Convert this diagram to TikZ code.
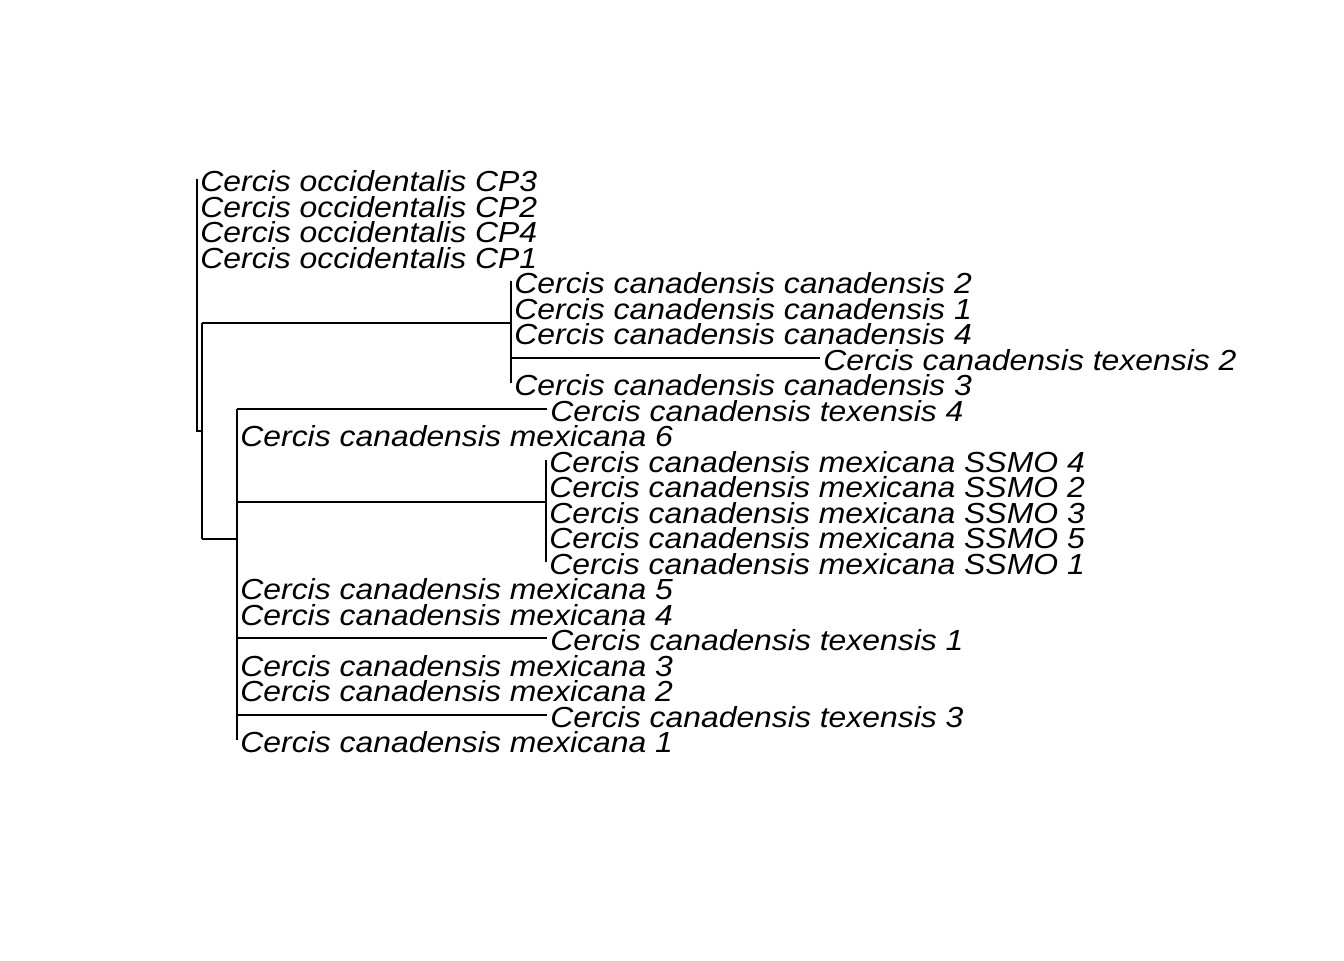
\documentclass[tikz,border=0pt]{standalone}
\usepackage{fontspec}
\newfontfamily\taxonfamily[FakeStretch=1.10]{Liberation Sans}
\usepackage{tikz}
\usetikzlibrary{calc}
\tikzset{
  branch/.style={line width=1pt},
  taxon/.style={anchor=base west, inner sep=0pt, xshift=1.5pt, yshift=-6.4pt,
    font=\taxonfamily\itshape\fontsize{14.5}{14.5}\selectfont}
}
\begin{document}
\begin{tikzpicture}[x=0.5pt,y=-0.5pt]
        \newcommand{\cercistopy}{179}
        \newcommand{\cercisrowsep}{25.5}
        \newcommand{\cercisrootx}{197}
        \newcommand{\cercisnodeax}{202}
        \newcommand{\cercisnodebx}{511}
        \newcommand{\cercisnodecx}{237}
        \newcommand{\cercisnodedx}{546}
        \newcommand{\cercistexx}{547}
        \useasboundingbox (0,0) rectangle (1344,960);
        \foreach \i/\tx/\lab in {
            1/\cercisrootx/Cercis occidentalis CP3,
            2/\cercisrootx/Cercis occidentalis CP2,
            3/\cercisrootx/Cercis occidentalis CP4,
            4/\cercisrootx/Cercis occidentalis CP1,
            5/\cercisnodebx/Cercis canadensis canadensis 2,
            6/\cercisnodebx/Cercis canadensis canadensis 1,
            7/\cercisnodebx/Cercis canadensis canadensis 4,
            8/820/Cercis canadensis texensis 2,
            9/\cercisnodebx/Cercis canadensis canadensis 3,
            10/\cercistexx/Cercis canadensis texensis 4,
            11/\cercisnodecx/Cercis canadensis mexicana 6,
            12/\cercisnodedx/Cercis canadensis mexicana SSMO 4,
            13/\cercisnodedx/Cercis canadensis mexicana SSMO 2,
            14/\cercisnodedx/Cercis canadensis mexicana SSMO 3,
            15/\cercisnodedx/Cercis canadensis mexicana SSMO 5,
            16/\cercisnodedx/Cercis canadensis mexicana SSMO 1,
            17/\cercisnodecx/Cercis canadensis mexicana 5,
            18/\cercisnodecx/Cercis canadensis mexicana 4,
            19/\cercistexx/Cercis canadensis texensis 1,
            20/\cercisnodecx/Cercis canadensis mexicana 3,
            21/\cercisnodecx/Cercis canadensis mexicana 2,
            22/\cercistexx/Cercis canadensis texensis 3,
            23/\cercisnodecx/Cercis canadensis mexicana 1}{
            \coordinate (t\i) at (\tx,{\cercistopy+(\i-1)*\cercisrowsep});
            \node[taxon] (l\i) at (t\i) {\lab};
        }
        \coordinate (nR) at (\cercisrootx,305);
        \coordinate (nA) at (\cercisnodeax,431);
        \coordinate (nB) at (\cercisnodebx,322.5);
        \coordinate (nC) at (\cercisnodecx,539);
        \coordinate (nD) at (\cercisnodedx,501.5);
        \draw[branch] (nR |- t1) -- (nR |- nA) -- (nA);
        \draw[branch] (nA |- nB) -- (nA |- nC);
        \draw[branch] (nA |- nB) -- (nB);
        \draw[branch] (nA |- nC) -- (nC);
        \draw[branch] (nB |- t5) -- (nB |- t9);
        \draw[branch] (nB |- t8) -- (t8);
        \draw[branch] (nC |- t10) -- (nC |- t23);
        \draw[branch] (nC |- t10) -- (t10);
        \draw[branch] (nC |- nD) -- (nD);
        \draw[branch] (nD |- t12) -- (nD |- t16);
        \draw[branch] (nC |- t19) -- (t19);
        \draw[branch] (nC |- t22) -- (t22);
    \end{tikzpicture}
\end{document}
